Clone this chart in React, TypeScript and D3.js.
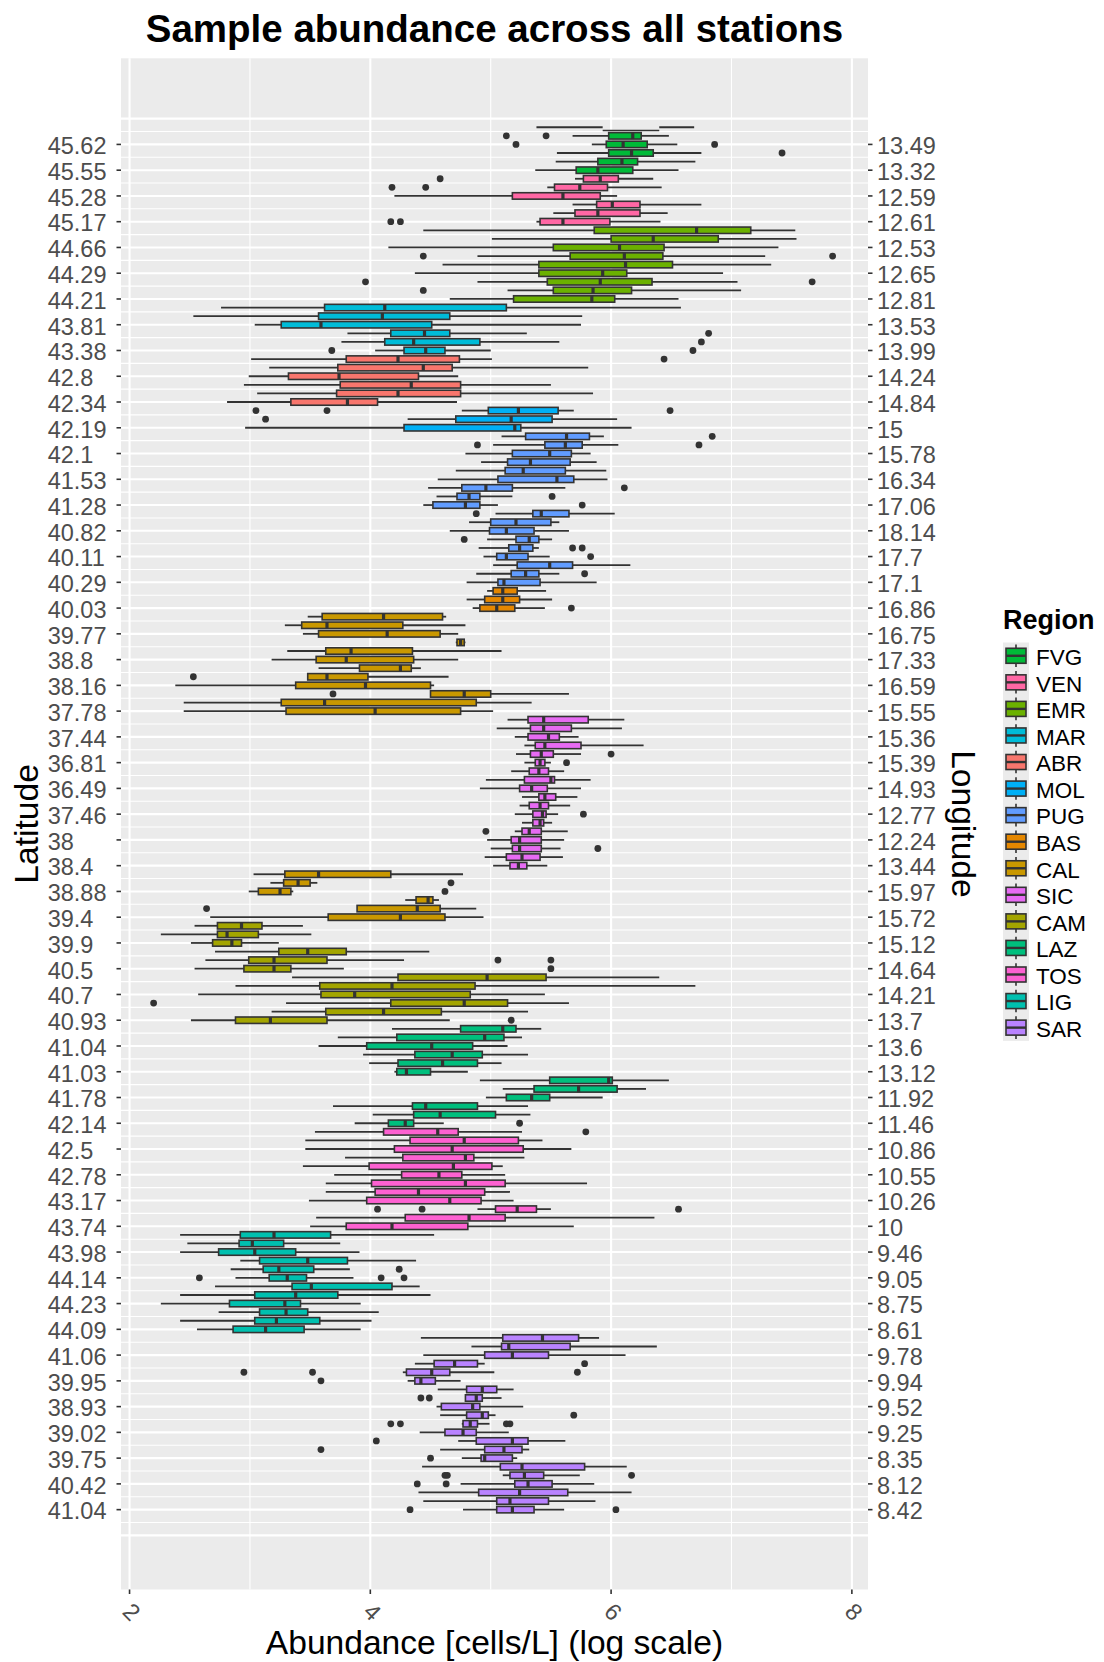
import React, { useEffect } from "react";
import * as d3 from "d3";

const regionOrder = ["FVG","VEN","EMR","MAR","ABR","MOL","PUG","BAS","CAL","SIC","CAM","LAZ","TOS","LIG","SAR"];
const regionColors: Record<string,string> = {
  ABR:"#F8766D", BAS:"#E58700", CAL:"#C99800", CAM:"#A3A500", EMR:"#6BB100",
  FVG:"#00BA38", LAZ:"#00BF7D", LIG:"#00C0AF", MAR:"#00BCD8", MOL:"#00B0F6",
  PUG:"#619CFF", SAR:"#B983FF", SIC:"#E76BF3", TOS:"#FD61D1", VEN:"#FF67A4",
};
// consecutive runs of samples (top to bottom) and their region
const regionRuns: [string, number][] = [
  ["FVG",6],["VEN",6],["EMR",9],["MAR",6],["ABR",6],["MOL",3],["PUG",18],["BAS",3],
  ["CAL",12],["SIC",18],["CAL",6],["CAM",12],["LAZ",12],["TOS",12],["LIG",12],["SAR",21],
];

const latitudeLabels = ["45.62","45.55","45.28","45.17","44.66","44.29","44.21","43.81","43.38","42.8","42.34","42.19","42.1","41.53","41.28","40.82","40.11","40.29","40.03","39.77","38.8","38.16","37.78","37.44","36.81","36.49","37.46","38","38.4","38.88","39.4","39.9","40.5","40.7","40.93","41.04","41.03","41.78","42.14","42.5","42.78","43.17","43.74","43.98","44.14","44.23","44.09","41.06","39.95","38.93","39.02","39.75","40.42","41.04"];
const longitudeLabels = ["13.49","13.32","12.59","12.61","12.53","12.65","12.81","13.53","13.99","14.24","14.84","15","15.78","16.34","17.06","18.14","17.7","17.1","16.86","16.75","17.33","16.59","15.55","15.36","15.39","14.93","12.77","12.24","13.44","15.97","15.72","15.12","14.64","14.21","13.7","13.6","13.12","11.92","11.46","10.86","10.55","10.26","10","9.46","9.05","8.75","8.61","9.78","9.94","9.52","9.25","8.35","8.12","8.42"];
const xTicks = [2, 4, 6, 8];

const whiskerLow = [5.38,5.68,5.84,5.55,5.54,5.37,5.70,5.47,4.20,5.68,5.52,5.38,4.44,5.01,4.15,4.89,4.60,4.37,4.89,5.14,4.66,2.76,2.53,3.04,3.81,3.76,4.04,3.01,3.16,2.99,2.95,3.06,2.81,4.76,4.31,2.96,5.09,5.02,4.79,4.92,4.71,4.56,4.48,4.55,4.44,5.04,4.82,4.66,4.97,4.90,4.94,5.02,4.88,4.80,4.97,4.80,4.85,3.48,3.29,3.44,4.71,3.31,3.18,3.57,3.48,2.38,4.50,2.45,2.45,5.14,5.05,5.20,5.28,5.21,5.28,5.17,4.96,4.91,5.26,5.24,5.20,5.26,5.20,4.97,5.00,4.95,5.02,3.03,3.17,2.99,4.29,3.89,2.67,2.54,2.26,2.51,2.71,2.63,2.54,3.35,2.88,2.57,3.30,3.18,2.51,4.18,3.73,3.57,3.94,3.99,4.20,4.91,5.10,4.96,3.69,4.02,3.87,3.54,3.46,3.46,3.79,3.44,3.70,3.63,3.63,3.49,4.89,3.55,3.50,2.42,2.48,2.42,2.92,2.84,2.88,2.71,2.42,2.26,2.74,2.42,2.56,4.42,4.84,4.44,4.37,4.27,4.31,4.56,4.79,4.55,4.58,4.76,4.41,4.73,4.58,4.76,4.43,5.10,4.75,4.40,4.44,4.77];
const boxQ1 = [5.93,5.98,5.96,5.98,5.89,5.71,5.77,5.53,5.18,5.88,5.70,5.41,5.86,6.00,5.52,5.66,5.40,5.40,5.47,5.52,5.19,3.62,3.57,3.26,4.17,4.12,4.28,3.80,3.73,3.32,3.75,3.72,3.34,4.98,4.71,4.28,5.29,5.45,5.18,5.14,5.12,5.06,4.76,4.72,4.52,5.35,5.00,4.99,5.21,5.15,5.05,5.22,5.17,5.06,5.02,4.95,4.91,3.60,3.43,3.57,4.72,3.63,3.55,3.91,3.48,3.38,4.50,3.26,3.30,5.31,5.33,5.31,5.37,5.33,5.37,5.32,5.28,5.24,5.40,5.32,5.35,5.35,5.26,5.17,5.18,5.13,5.16,3.29,3.28,3.07,4.38,3.89,3.65,2.73,2.73,2.69,3.24,2.99,2.95,4.23,3.58,3.59,4.17,3.63,2.88,4.75,4.22,3.97,4.37,4.23,4.22,5.49,5.36,5.13,4.35,4.36,4.15,4.11,4.33,4.20,4.27,3.99,4.26,4.01,4.04,3.97,5.04,4.29,3.80,2.92,2.91,2.74,3.08,3.11,3.16,3.35,3.04,2.83,3.08,3.04,2.86,5.10,5.09,4.95,4.53,4.30,4.37,4.80,4.79,4.59,4.80,4.77,4.62,4.88,4.95,4.92,5.08,5.16,5.20,4.90,5.05,5.05];
const boxMedian = [6.17,6.18,6.10,6.17,6.09,5.89,5.91,5.74,5.60,6.01,5.89,5.60,6.71,6.35,6.07,6.11,6.12,5.93,5.91,5.85,5.84,4.12,4.10,3.59,4.45,4.36,4.46,4.23,4.44,3.74,4.34,4.23,3.81,5.23,5.17,5.20,5.63,5.62,5.49,5.33,5.27,5.55,4.96,4.82,4.79,5.42,5.21,5.13,5.32,5.24,5.13,5.49,5.29,5.11,5.10,5.10,5.05,4.11,3.64,4.14,4.75,3.84,3.80,4.25,3.64,3.96,4.78,3.62,4.04,5.44,5.44,5.48,5.45,5.42,5.41,5.40,5.50,5.34,5.45,5.41,5.43,5.41,5.32,5.24,5.24,5.26,5.23,3.57,3.40,3.25,4.48,4.39,4.25,2.93,2.81,2.85,3.48,3.20,3.20,4.97,4.18,3.87,4.78,4.11,3.17,5.10,4.95,4.51,4.68,4.60,4.30,5.98,5.73,5.34,4.46,4.58,4.29,4.56,4.78,4.68,4.79,4.69,4.57,4.79,4.40,4.66,5.22,4.82,4.18,3.20,3.02,3.04,3.48,3.24,3.31,3.51,3.38,3.29,3.30,3.22,3.13,5.43,5.15,5.18,4.70,4.51,4.42,4.93,4.88,4.85,4.93,4.83,4.77,5.18,5.11,4.95,5.26,5.28,5.31,5.24,5.16,5.18];
const boxQ3 = [6.40,6.25,6.30,6.35,6.22,6.18,6.06,5.97,5.91,6.24,6.24,5.99,7.16,6.89,6.44,6.43,6.51,6.13,6.34,6.17,6.03,5.13,4.66,4.51,4.66,4.91,4.62,4.74,4.68,4.40,4.75,4.75,4.06,5.56,5.51,5.25,5.82,5.76,5.67,5.66,5.62,5.69,5.18,4.91,4.91,5.65,5.50,5.36,5.40,5.35,5.31,5.68,5.40,5.41,5.22,5.24,5.20,4.60,4.27,4.58,4.78,4.35,4.36,4.34,3.98,4.50,5.00,4.88,4.75,5.81,5.67,5.57,5.75,5.52,5.45,5.48,5.53,5.47,5.54,5.48,5.46,5.44,5.42,5.42,5.42,5.41,5.30,4.17,3.50,3.34,4.52,4.58,4.62,3.10,3.07,2.93,3.80,3.64,3.34,5.46,4.87,4.83,5.14,4.59,3.64,5.21,5.11,4.85,4.93,4.89,4.50,6.01,6.05,5.49,4.89,5.04,4.36,4.73,5.23,5.27,4.86,5.01,4.76,5.12,4.95,4.92,5.38,5.12,4.81,3.67,3.28,3.38,3.81,3.53,3.47,4.18,3.73,3.42,3.48,3.58,3.45,5.73,5.66,5.48,4.89,4.66,4.54,5.05,4.93,4.91,4.98,4.89,4.88,5.31,5.26,5.18,5.78,5.44,5.51,5.64,5.48,5.36];
const whiskerHigh = [6.69,6.48,6.55,6.75,6.70,6.56,6.35,6.42,6.05,6.75,6.47,6.41,7.53,7.54,7.39,7.28,7.33,6.93,7.05,7.08,6.56,6.58,5.76,5.75,5.30,5.57,5.00,5.01,5.81,4.73,5.50,5.85,4.72,5.69,6.05,6.17,5.94,6.06,5.83,5.88,5.96,5.97,5.62,5.18,5.06,6.03,5.57,5.65,5.51,5.40,5.49,6.16,5.57,5.88,5.46,5.51,5.45,4.63,4.79,4.73,4.79,5.09,4.73,4.42,4.65,4.53,5.65,5.34,5.02,6.11,6.09,5.73,6.27,5.75,5.50,5.61,5.83,5.75,5.72,5.66,5.56,5.51,5.64,5.61,5.58,5.60,5.47,4.77,3.56,3.36,4.57,4.88,4.94,3.44,3.51,3.24,4.49,4.28,3.78,6.40,6.70,5.45,5.65,5.31,4.66,5.42,5.26,5.14,5.31,5.09,4.81,6.48,6.29,5.93,5.31,5.33,4.61,5.26,5.43,5.67,5.28,5.10,5.12,5.80,5.16,5.19,5.50,6.36,5.69,4.53,3.75,3.91,4.38,3.83,3.86,4.41,4.50,3.92,4.07,4.01,3.92,5.90,6.38,6.12,4.95,5.03,4.75,5.19,5.09,5.27,5.04,4.99,5.15,5.62,5.32,5.22,6.13,5.74,5.86,6.17,5.87,5.61];
const outliers: number[][] = [
  [],[5.13,5.46],[5.21,6.86],[7.42],[],[],[4.58],[4.18,4.46],[],[],[],[4.17,4.25],
  [],[],[],[4.44,7.84],[],[],[3.96,7.67],[4.44],[],
  [],[],[],[6.81],[6.75],[3.68,6.68],
  [6.44],[],[],[],[],[],
  [3.05,3.64,6.49],[3.13],[],
  [6.84],[4.89,6.73],[],[],[],[],[6.11],[5.51],[5.76],[4.88],[],[],[4.78],[5.68,5.76],[5.83],[],[5.78],[],
  [],[],[5.67],
  [],[],[],[],[],[],[],[2.53],[],[3.69],[],[],
  [],[],[],[],[6.00],[5.63],[],[],[],[],[],[5.77],[],[4.96],[],[5.89],[],[],
  [],[4.67],[4.62],[],[2.64],[],
  [],[],[],[],[5.06,5.50],[5.50],[],[],[],[2.20],[],[5.17],
  [],[],[],[],[],[],[],[],[],[],[],[5.24],
  [5.79],[],[],[],[],[],[],[],[],[4.06,4.43,6.56],[],[],
  [],[],[],[],[4.24],[2.58,4.09,4.28],[],[],[],[],[],[],
  [],[],[],[5.78],[2.95,3.52,5.72],[3.59],[],[4.42,4.49],[],[5.69],[4.17,4.25,5.13,5.16],[],[4.05],[3.59],[4.50],[],[4.62,4.64,6.17],[4.39,4.63],[],[],[4.33,6.04],
];
const collapsedBoxes = [0];

const FONT = "'Liberation Sans', Arial, Helvetica, sans-serif";

export default function App() {
  useEffect(() => {
    document.body.style.margin = "0";
  }, []);

  const W = 1104, H = 1662;
  const left = 121, right = 868, top = 58.3, bottom = 1589.5;
  const x = d3.scaleLinear().domain([1.929, 8.134]).range([left, right]);
  const y = d3.scaleLinear().domain([-8.03, 170.3]).range([top, bottom]);
  const rowH = y(1) - y(0);
  const boxH = rowH * 0.75;

  const regionOfRow: string[] = [];
  regionRuns.forEach(([r, n]) => { for (let i = 0; i < n; i++) regionOfRow.push(r); });

  const majorRows = d3.range(56).map((k) => -1 + 3 * k);
  const minorRows = d3.range(55).map((k) => 0.5 + 3 * k);
  const labelRows = latitudeLabels.map((_, k) => 2 + 3 * k);
  const xMinor = [3, 5, 7];

  const legendTop = 642.5;
  const keyH = 26.56;
  const textDy = 1.8;

  return (
    <svg width={W} height={H} viewBox={`0 0 ${W} ${H}`} style={{ display: "block", background: "#fff" }} fontFamily={FONT}>
      <rect x={0} y={0} width={W} height={H} fill="#fff" />
      {/* panel */}
      <rect x={left} y={top} width={right - left} height={bottom - top} fill="#EBEBEB" />
      {minorRows.map((r) => (
        <line key={"hm" + r} x1={left} x2={right} y1={y(r)} y2={y(r)} stroke="#fff" strokeWidth={1.1} />
      ))}
      {xMinor.map((v) => (
        <line key={"vm" + v} x1={x(v)} x2={x(v)} y1={top} y2={bottom} stroke="#fff" strokeWidth={1.1} />
      ))}
      {majorRows.map((r) => (
        <line key={"hM" + r} x1={left} x2={right} y1={y(r)} y2={y(r)} stroke="#fff" strokeWidth={2.1} />
      ))}
      {xTicks.map((v) => (
        <line key={"vM" + v} x1={x(v)} x2={x(v)} y1={top} y2={bottom} stroke="#fff" strokeWidth={2.1} />
      ))}

      {/* boxes */}
      {whiskerLow.map((lo, i) => {
        const cy = y(i);
        const fill = regionColors[regionOfRow[i]];
        const collapsed = collapsedBoxes.includes(i);
        return (
          <g key={"b" + i}>
            <line x1={x(lo)} x2={x(boxQ1[i])} y1={cy} y2={cy} stroke="#333" strokeWidth={1.8} />
            <line x1={x(boxQ3[i])} x2={x(whiskerHigh[i])} y1={cy} y2={cy} stroke="#333" strokeWidth={1.8} />
            {collapsed ? (
              <line x1={x(boxQ1[i])} x2={x(boxQ3[i])} y1={cy + 3.3} y2={cy + 3.3} stroke="#333" strokeWidth={1.6} />
            ) : (
              <>
                <rect x={x(boxQ1[i])} y={cy - boxH / 2} width={Math.max(0.5, x(boxQ3[i]) - x(boxQ1[i]))} height={boxH}
                  fill={fill} stroke="#333" strokeWidth={1.6} />
                <line x1={x(boxMedian[i])} x2={x(boxMedian[i])} y1={cy - boxH / 2} y2={cy + boxH / 2} stroke="#333" strokeWidth={3.2} />
              </>
            )}
            {outliers[i].map((o, j) => (
              <circle key={j} cx={x(o)} cy={cy} r={3.4} fill="#333" />
            ))}
          </g>
        );
      })}

      {/* y axes */}
      {labelRows.map((r, k) => (
        <g key={"ly" + k}>
          <line x1={left - 4.5} x2={left} y1={y(r)} y2={y(r)} stroke="#333" strokeWidth={1.6} />
          <text x={47.7} y={y(r) + textDy} dominantBaseline="central" fontSize={23.5} fill="#4D4D4D">{latitudeLabels[k]}</text>
          <line x1={right} x2={right + 4.5} y1={y(r)} y2={y(r)} stroke="#333" strokeWidth={1.6} />
          <text x={877} y={y(r) + textDy} dominantBaseline="central" fontSize={23.5} fill="#4D4D4D">{longitudeLabels[k]}</text>
        </g>
      ))}

      {/* x axis */}
      {xTicks.map((v) => (
        <g key={"xt" + v}>
          <line x1={x(v)} x2={x(v)} y1={bottom} y2={bottom + 4.5} stroke="#333" strokeWidth={1.6} />
          <text transform={`translate(${x(v) + 2},${1612}) rotate(45)`} textAnchor="middle" dominantBaseline="central"
            fontSize={23.5} fill="#4D4D4D">{v}</text>
        </g>
      ))}

      {/* titles */}
      <text x={(left + right) / 2} y={42} textAnchor="middle" fontSize={38.5} fontWeight="bold" fill="#000">
        Sample abundance across all stations
      </text>
      <text x={(left + right) / 2} y={1654} textAnchor="middle" fontSize={33.6} fill="#000">
        Abundance [cells/L] (log scale)
      </text>
      <text transform={`translate(38,${(top + bottom) / 2}) rotate(-90)`} textAnchor="middle" fontSize={33.6} fill="#000">
        Latitude
      </text>
      <text transform={`translate(952,${(top + bottom) / 2}) rotate(90)`} textAnchor="middle" fontSize={33.6} fill="#000">
        Longitude
      </text>

      {/* legend */}
      <text x={1003} y={629} fontSize={27} fontWeight="bold" fill="#000">Region</text>
      <rect x={1003} y={legendTop} width={26} height={keyH * regionOrder.length} fill="#EBEBEB" />
      {regionOrder.map((r, k) => {
        const cy = legendTop + keyH * (k + 0.5);
        const bx = 1006, bw = 20, bh = 15;
        return (
          <g key={"lg" + r}>
            <line x1={bx + bw / 2} x2={bx + bw / 2} y1={cy - keyH / 2 + 2} y2={cy + keyH / 2 - 2} stroke="#333" strokeWidth={1.6} />
            <rect x={bx} y={cy - bh / 2} width={bw} height={bh} fill={regionColors[r]} stroke="#333" strokeWidth={1.6} />
            <line x1={bx} x2={bx + bw} y1={cy} y2={cy} stroke="#333" strokeWidth={2.4} />
            <text x={1036} y={cy + textDy} dominantBaseline="central" fontSize={22.5} fill="#000">{r}</text>
          </g>
        );
      })}
    </svg>
  );
}
